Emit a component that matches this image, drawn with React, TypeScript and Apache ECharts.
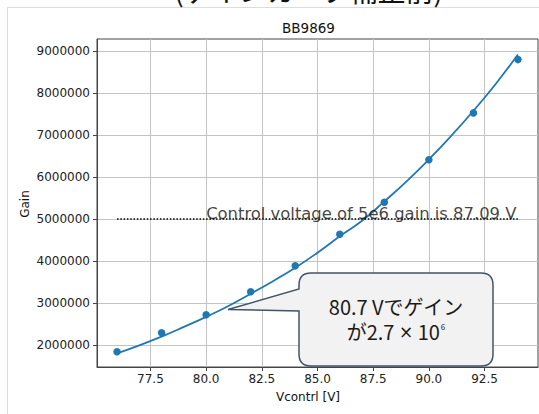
import React, { useEffect, useRef } from 'react';
import * as echarts from 'echarts';

// ---- data ----
const xTicks = [77.5, 80.0, 82.5, 85.0, 87.5, 90.0, 92.5];
const yTicks = [2000000, 3000000, 4000000, 5000000, 6000000, 7000000, 8000000, 9000000];
const measVoltage = [76, 78, 80, 82, 84, 86, 88, 90, 92, 94];
const measGain = [1840000, 2290000, 2720000, 3270000, 3885000, 4640000, 5400000, 6415000, 7530000, 8800000];
const fitVoltage = [76, 77, 78, 79, 80, 81, 82, 83, 84, 85, 86, 87, 88, 89, 90, 91, 92, 93, 94];
const fitGain = [1800000, 1990000, 2200000, 2430000, 2670000, 2930000, 3220000, 3520000, 3840000, 4200000, 4590000, 4960000, 5420000, 5900000, 6420000, 6980000, 7580000, 8220000, 8920000];
const refVoltage = [76, 94];
const refGain = 5000000;
const refLabelVoltage = 80.0;
const refLabel = 'Control voltage of 5e6 gain is 87.09 V';
const chartTitle = 'BB9869';
const xName = 'Vcontrl [V]';
const yName = 'Gain';
const topCaption = '(ゲインカーブ補正前)';
const calloutLine1 = '80.7 Vでゲイン';
const calloutLine2a = 'が2.7 ';
const calloutTimes = '×';
const calloutLine2b = ' 10';
const calloutSup = '6';

const calloutPath =
  'M228,309.5 L299,289 L299,285 Q299,273 311,273 L481,273 Q493,273 493,285 L493,354 Q493,366 481,366 L311,366 Q299,366 299,354 L299,311 Z';
echarts.graphic.registerShape('callout', echarts.graphic.extendPath(calloutPath, {}));

const FONT = 'DejaVu Sans';
const JP = '"Noto Sans CJK JP"';

export default function App() {
  const ref = useRef<HTMLDivElement>(null);
  useEffect(() => {
    if (!ref.current) return;
    const chart = echarts.init(ref.current, null, { renderer: 'svg' });
    chart.setOption({
      animation: false,
      backgroundColor: '#ffffff',
      grid: {
        left: 97,
        right: 1,
        top: 39,
        bottom: 47,
        show: true,
        borderColor: '#444',
        borderWidth: 1,
        backgroundColor: 'transparent',
      },
      xAxis: {
        type: 'value',
        min: 75.1,
        max: 94.9,
        axisLine: { show: true, lineStyle: { color: '#444', width: 1 } },
        axisTick: {
          show: true,
          inside: false,
          length: 4,
          lineStyle: { color: '#444' },
          customValues: xTicks,
        },
        axisLabel: {
          customValues: xTicks,
          formatter: (v: number) => v.toFixed(1),
          fontFamily: FONT,
          fontSize: 12,
          color: '#222',
          margin: 6,
        },
        splitLine: { show: true, lineStyle: { color: '#c4c4c4', width: 1 } },
      },
      yAxis: {
        type: 'value',
        min: 1475000,
        max: 9291000,
        axisLine: { show: true, lineStyle: { color: '#444', width: 1 } },
        axisTick: {
          show: true,
          inside: false,
          length: 4,
          lineStyle: { color: '#444' },
          customValues: yTicks,
        },
        axisLabel: {
          customValues: yTicks,
          formatter: (v: number) => String(Math.round(v)),
          fontFamily: FONT,
          fontSize: 12,
          color: '#222',
          margin: 7,
        },
        splitLine: { show: true, lineStyle: { color: '#c4c4c4', width: 1 } },
      },
      series: [
        {
          type: 'line',
          data: refVoltage.map((v) => [v, refGain]),
          symbol: 'none',
          lineStyle: { color: '#000', width: 1.5, type: [1.5, 1.8] },
          z: 3,
        },
        {
          type: 'line',
          data: fitVoltage.map((v, i) => [v, fitGain[i]]),
          smooth: true,
          symbol: 'none',
          lineStyle: { color: '#1f77b4', width: 1.8 },
          z: 2,
        },
        {
          type: 'scatter',
          data: measVoltage.map((v, i) => [v, measGain[i]]),
          symbolSize: 7.5,
          itemStyle: { color: '#1f77b4', opacity: 1 },
          z: 4,
        },
        {
          type: 'scatter',
          data: [[refLabelVoltage, refGain]],
          symbolSize: 0,
          silent: true,
          z: 5,
          label: {
            show: true,
            position: 'right',
            distance: 0,
            offset: [0, -6],
            formatter: refLabel,
            fontFamily: FONT,
            fontSize: 16.4,
            color: '#111',
          },
        },
      ],
      graphic: [
        {
          type: 'rect',
          shape: { x: 7.5, y: 7.5, width: 700, height: 600 },
          style: { fill: 'none', stroke: '#dcdcdc', lineWidth: 1 },
          silent: true,
          z: 0,
        },
        {
          type: 'text',
          x: 308.5,
          y: -24,
          style: {
            text: topCaption,
            fontFamily: JP,
            fontSize: 28,
            fill: '#111',
            align: 'center',
            verticalAlign: 'top',
          },
          z: 10,
        },
        {
          type: 'text',
          x: 308.5,
          y: 28,
          style: {
            text: chartTitle,
            fontFamily: FONT,
            fontSize: 13.5,
            fill: '#111',
            align: 'center',
            verticalAlign: 'middle',
          },
        },
        {
          type: 'text',
          x: 308,
          y: 397,
          style: {
            text: xName,
            fontFamily: FONT,
            fontSize: 12,
            fill: '#111',
            align: 'center',
            verticalAlign: 'middle',
          },
        },
        {
          type: 'text',
          x: 25,
          y: 204,
          rotation: Math.PI / 2,
          style: {
            text: yName,
            fontFamily: FONT,
            fontSize: 12,
            fill: '#111',
            align: 'center',
            verticalAlign: 'middle',
          },
        },
        {
          type: 'callout',
          x: 0,
          y: 0,
          z: 20,
          style: { fill: '#f2f2f2', stroke: '#44546a', lineWidth: 1.5 },
        },
        {
          type: 'text',
          x: 396,
          y: 319,
          z: 21,
          style: {
            text:
              calloutLine1 +
              '\n' +
              calloutLine2a +
              '{x|' + calloutTimes + '}' +
              calloutLine2b +
              '{sup|' + calloutSup + '}',
            fontFamily: JP,
            fontSize: 20,
            lineHeight: 25,
            fill: '#1a1a1a',
            align: 'center',
            verticalAlign: 'middle',
            rich: {
              x: {
                fontFamily: FONT,
                fontSize: 17,
                lineHeight: 25,
                fill: '#1a1a1a',
              },
              sup: {
                fontFamily: JP,
                fontSize: 8,
                lineHeight: 25,
                verticalAlign: 'top',
                padding: [4, 0, 0, 1],
                fill: '#1a1a1a',
              },
            },
          },
        },
      ],
    });
    return () => chart.dispose();
  }, []);
  return (
    <div
      ref={ref}
      style={{ position: 'absolute', left: 0, top: 0, width: 539, height: 414, background: '#fff' }}
    />
  );
}
